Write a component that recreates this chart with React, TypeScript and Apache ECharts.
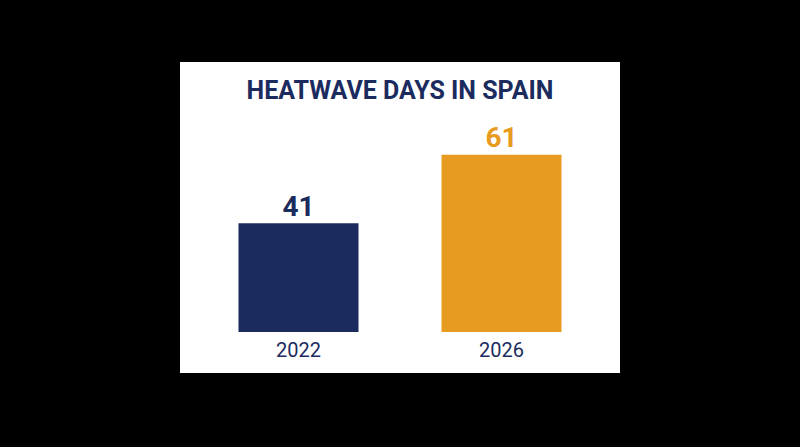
import React, { useEffect, useRef } from "react";
import * as echarts from "echarts";

const categories = ["2022", "2026"];
const values = [41, 61];
const barColors = ["#1b2b5e", "#e89b21"];
const titleText = "HEATWAVE DAYS IN SPAIN";

export default function App() {
  const ref = useRef<HTMLDivElement>(null);
  useEffect(() => {
    if (!ref.current) return;
    const chart = echarts.init(ref.current, null, { renderer: "svg" });
    chart.setOption({
      animation: false,
      backgroundColor: "#000000",
      graphic: [
        {
          type: "rect",
          z: -10,
          shape: { x: 180, y: 62, width: 440, height: 311 },
          style: { fill: "#ffffff" },
        },
      ],
      title: {
        text: titleText,
        left: "center",
        top: 73,
        textStyle: {
          fontFamily: "Roboto",
          fontWeight: "bold",
          fontSize: 25,
          color: "#1b2b5e",
        },
      },
      grid: { left: 197, right: 197, top: 124, bottom: 115, containLabel: false },
      xAxis: {
        type: "category",
        data: categories,
        axisLine: { show: false },
        axisTick: { show: false },
        axisLabel: {
          fontFamily: "Roboto",
          fontSize: 20,
          color: "#1b2b5e",
          margin: 8,
        },
      },
      yAxis: {
        type: "value",
        min: 9.25,
        max: 70,
        show: false,
        splitLine: { show: false },
      },
      series: [
        {
          type: "bar",
          barWidth: 120,
          data: values.map((v, i) => ({ value: v, itemStyle: { color: barColors[i] } })),
          label: {
            show: true,
            position: "top",
            distance: 3,
            fontFamily: "Roboto",
            fontWeight: "bold",
            fontSize: 28,
            color: "inherit",
          },
        },
      ],
    });
    return () => chart.dispose();
  }, []);
  return (
    <div
      ref={ref}
      style={{ position: "fixed", left: 0, top: 0, width: 800, height: 447 }}
    />
  );
}
